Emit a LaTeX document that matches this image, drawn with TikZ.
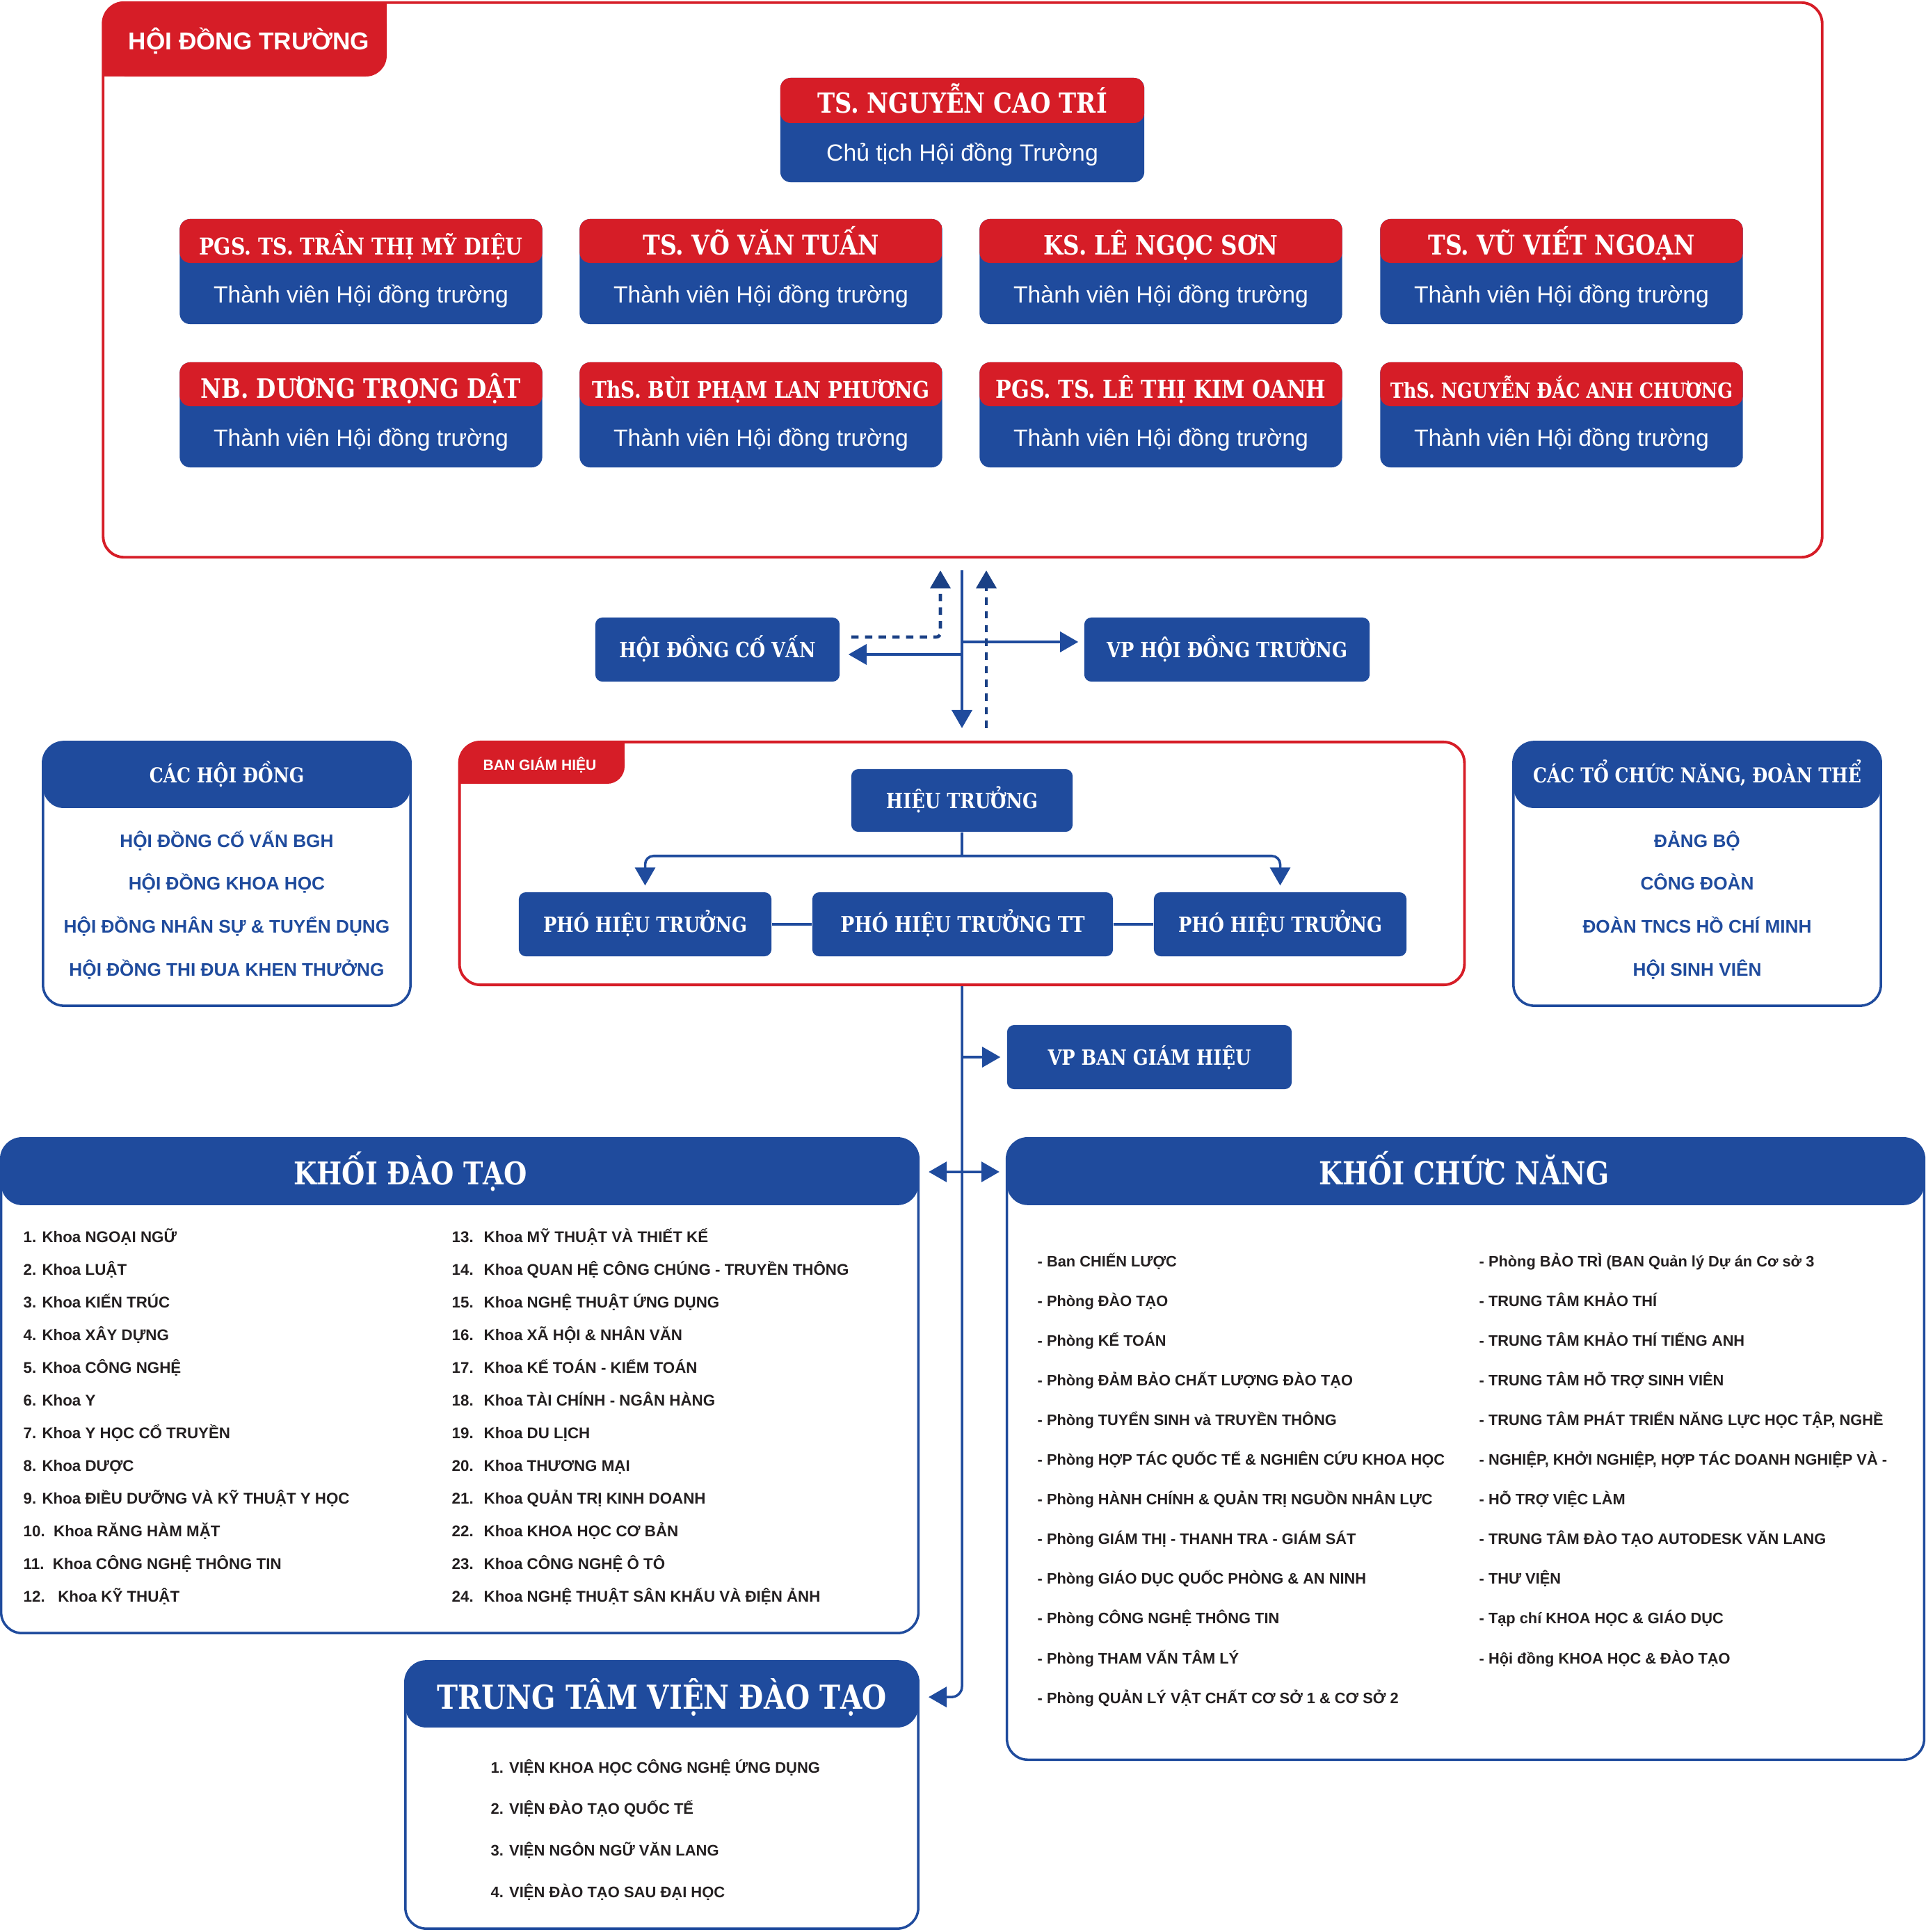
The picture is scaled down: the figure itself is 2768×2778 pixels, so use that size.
\documentclass[tikz,border=0pt]{standalone}
\usepackage{fontspec}
\setmainfont{Liberation Sans}
\newfontfamily\slab[FakeStretch=0.85]{DejaVu Serif}
\usepackage{tikz}
\usetikzlibrary{positioning,calc,arrows.meta}
\definecolor{hdred}{RGB}{214,29,39}
\definecolor{hdblue}{RGB}{31,75,157}
\definecolor{inkdark}{RGB}{35,31,32}

\begin{document}
\begin{tikzpicture}[x=0.01cm,y=-0.01cm,
  redframe/.style={draw=hdred,line width=1.1pt,rounded corners=0.3cm,inner sep=0pt},
  member/.style={fill=hdblue,rounded corners=0.15cm,inner sep=0pt,minimum width=5.21cm,minimum height=1.51cm,
    path picture={\fill[hdred] (path picture bounding box.north west) rectangle ([yshift=-#1]path picture bounding box.north east);}},
  member/.default=0.63cm,
  whotext/.style={anchor=base,text=white,font=\slab\bfseries\fontsize{#1}{#1}\selectfont},
  roletext/.style={anchor=base,text=white,font=\fontsize{9.6}{11}\selectfont},
  bluebox/.style={fill=hdblue,rounded corners=0.1cm,inner sep=0pt,minimum height=0.92cm,text=white,
    font=\slab\bfseries\fontsize{8.6}{10}\selectfont,text height=6.3pt,text depth=0pt},
  panel/.style={draw=hdblue,line width=1pt,rounded corners=0.3cm,inner sep=0pt,
    path picture={\fill[hdblue] (path picture bounding box.north west) rectangle ([yshift=-#1]path picture bounding box.north east);}},
  panel/.default=0.96cm,
  head/.style={anchor=base,text=white,font=\slab\bfseries\fontsize{#1}{#1}\selectfont},
  bluetxt/.style={anchor=base,text=hdblue,font=\bfseries\fontsize{7.45}{9}\selectfont},
  listtxt/.style={anchor=base west,inner sep=0pt,text=inkdark,font=\bfseries\fontsize{#1}{#1}\selectfont},
  bline/.style={draw=hdblue,line width=1pt},
  dline/.style={draw=hdblue!85!black,line width=1.3pt,dash pattern=on 3pt off 2.6pt},
  arr/.style={-{Triangle[width=0.29cm,length=0.26cm]}},
  arr2/.style={{Triangle[width=0.29cm,length=0.26cm]}-{Triangle[width=0.29cm,length=0.26cm]}}]
\useasboundingbox (0,0) rectangle (2768,2778);

% hoi dong truong
\node[redframe,minimum width=24.70cm,minimum height=7.97cm] (hdt) at (1384,402.5) {};
\fill[hdred,rounded corners=0.3cm] (149,4) rectangle (556,110);
\fill[hdred] (480,4) rectangle (556,60);
\fill[hdred] (149,50) rectangle (220,110);
\node[anchor=base,text=white,font=\bfseries\fontsize{10}{12}\selectfont] (hdttab) at (358,71) {HỘI ĐỒNG TRƯỜNG};

\node[member=0.65cm,minimum width=5.23cm,minimum height=1.50cm] (chu) at (1383.5,187) {};
\node[whotext=11.3] (chuw) at ([yshift=-0.51cm]chu.north) {TS. NGUYỄN CAO TRÍ};
\node[roletext] (chur) at ([yshift=-1.20cm]chu.north) {Chủ tịch Hội đồng Trường};

\foreach \cx/\cy/\who/\sz [count=\i] in {
  519/315/{PGS. TS. TRẦN THỊ MỸ DIỆU}/9.5,
  1094/315/{TS. VÕ VĂN TUẤN}/11.1,
  1669/315/{KS. LÊ NGỌC SƠN}/10.9,
  2245/315/{TS. VŨ VIẾT NGOẠN}/11.1,
  519/521/{NB. DƯƠNG TRỌNG DẬT}/10.9,
  1094/521/{ThS. BÙI PHẠM LAN PHƯƠNG}/9.4,
  1669/521/{PGS. TS. LÊ THỊ KIM OANH}/10.1,
  2245/521/{ThS. NGUYỄN ĐẮC ANH CHƯƠNG}/8.55}
{
  \node[member] (m\i) at (\cx,\cy+75.5) {};
  \node[whotext=\sz] (mw\i) at ([yshift=-0.52cm]m\i.north) {\who};
  \node[roletext] (mr\i) at ([yshift=-1.21cm]m\i.north) {Thành viên Hội đồng trường};
}

% co van, van phong
\node[bluebox,minimum width=3.51cm] (hdcv) at (1031.5,934) {HỘI ĐỒNG CỐ VẤN};
\node[bluebox,minimum width=4.10cm] (vphdt) at (1764,934) {VP HỘI ĐỒNG TRƯỜNG};

% ban giam hieu
\node[redframe,minimum width=14.44cm,minimum height=3.49cm] (bgh) at (1383,1241.5) {};
\fill[hdred,rounded corners=0.25cm] (661,1067) rectangle (898,1127);
\fill[hdred] (840,1067) rectangle (898,1100);
\fill[hdred] (661,1095) rectangle (700,1127);
\node[anchor=base,text=white,font=\bfseries\fontsize{6}{7}\selectfont] (bghtab) at (776,1107) {BAN GIÁM HIỆU};

\node[bluebox,minimum width=3.18cm,minimum height=0.90cm] (ht) at (1383,1151) {HIỆU TRƯỞNG};
\node[bluebox,minimum width=3.63cm] (pht1) at (927.5,1329) {PHÓ HIỆU TRƯỞNG};
\node[bluebox,minimum width=4.32cm,font=\slab\bfseries\fontsize{8.9}{10}\selectfont] (phttt) at (1384,1329) {PHÓ HIỆU TRƯỞNG TT};
\node[bluebox,minimum width=3.63cm] (pht3) at (1840.5,1329) {PHÓ HIỆU TRƯỞNG};
\node[bluebox,minimum width=4.09cm] (vpbgh) at (1652.5,1520) {VP BAN GIÁM HIỆU};

% cac hoi dong / cac to chuc
\node[panel=0.95cm,minimum width=5.28cm,minimum height=3.79cm] (chd) at (326,1256.5) {};
\node[head=8.4] (chdh) at (326,1125) {CÁC HỘI ĐỒNG};
\foreach \t [count=\i] in {HỘI ĐỒNG CỐ VẤN BGH, HỘI ĐỒNG KHOA HỌC, HỘI ĐỒNG NHÂN SỰ \& TUYỂN DỤNG, HỘI ĐỒNG THI ĐUA KHEN THƯỞNG}
  \node[bluetxt] (chd\i) at (326,{1218+61.7*(\i-1)}) {\t};

\node[panel=0.95cm,minimum width=5.28cm,minimum height=3.79cm] (ctc) at (2440,1256.5) {};
\node[head=8.4] (ctch) at (2440,1125) {CÁC TỔ CHỨC NĂNG, ĐOÀN THỂ};
\foreach \t [count=\i] in {ĐẢNG BỘ, CÔNG ĐOÀN, ĐOÀN TNCS HỒ CHÍ MINH, HỘI SINH VIÊN}
  \node[bluetxt] (ctc\i) at (2440,{1218+61.7*(\i-1)}) {\t};

% khoi dao tao
\node[panel,minimum width=13.18cm,minimum height=7.11cm] (kdt) at (661,1992.5) {};
\node[head=12.8] (kdth) at (590,1703) {KHỐI ĐÀO TẠO};
\foreach \t [count=\i] in {1. Khoa NGOẠI NGỮ, 2. Khoa LUẬT, 3. Khoa KIẾN TRÚC, 4. Khoa XÂY DỰNG, 5. Khoa CÔNG NGHỆ,
  6. Khoa Y, 7. Khoa Y HỌC CỔ TRUYỀN, 8. Khoa DƯỢC, 9. Khoa ĐIỀU DƯỠNG VÀ KỸ THUẬT Y HỌC,
  10.\ \ Khoa RĂNG HÀM MẶT, 11.\ \ Khoa CÔNG NGHỆ THÔNG TIN, 12.\ \ \ Khoa KỸ THUẬT}
  \node[listtxt=6.35] (ka\i) at (33,{1786+47*(\i-1)}) {\t};
\foreach \t [count=\i from 13] in {MỸ THUẬT VÀ THIẾT KẾ, QUAN HỆ CÔNG CHÚNG - TRUYỀN THÔNG, NGHỆ THUẬT ỨNG DỤNG,
  XÃ HỘI \& NHÂN VĂN, KẾ TOÁN - KIỂM TOÁN, TÀI CHÍNH - NGÂN HÀNG, DU LỊCH, THƯƠNG MẠI,
  QUẢN TRỊ KINH DOANH, KHOA HỌC CƠ BẢN, CÔNG NGHỆ Ô TÔ, NGHỆ THUẬT SÂN KHẤU VÀ ĐIỆN ẢNH}
{
  \node[listtxt=6.35] (kn\i) at (649,{1786+47*(\i-13)}) {\i.};
  \node[listtxt=6.35] (ka\i) at (695,{1786+47*(\i-13)}) {Khoa \t};
}

% khoi chuc nang
\node[panel,minimum width=13.18cm,minimum height=8.93cm] (kcn) at (2107,2083.5) {};
\node[head=13] (kcnh) at (2105,1703) {KHỐI CHỨC NĂNG};
\foreach \t [count=\i] in {Ban CHIẾN LƯỢC, Phòng ĐÀO TẠO, Phòng KẾ TOÁN, Phòng ĐẢM BẢO CHẤT LƯỢNG ĐÀO TẠO,
  Phòng TUYỂN SINH và TRUYỀN THÔNG, Phòng HỢP TÁC QUỐC TẾ \& NGHIÊN CỨU KHOA HỌC,
  Phòng HÀNH CHÍNH \& QUẢN TRỊ NGUỒN NHÂN LỰC, Phòng GIÁM THỊ - THANH TRA - GIÁM SÁT,
  Phòng GIÁO DỤC QUỐC PHÒNG \& AN NINH, Phòng CÔNG NGHỆ THÔNG TIN, Phòng THAM VẤN TÂM LÝ,
  Phòng QUẢN LÝ VẬT CHẤT CƠ SỞ 1 \& CƠ SỞ 2}
  \node[listtxt=6.2] (cn\i) at (1491,{1821+57.1*(\i-1)}) {- \t};
\foreach \t [count=\i] in {Phòng BẢO TRÌ (BAN Quản lý Dự án Cơ sở 3, TRUNG TÂM KHẢO THÍ, TRUNG TÂM KHẢO THÍ TIẾNG ANH,
  TRUNG TÂM HỖ TRỢ SINH VIÊN, {TRUNG TÂM PHÁT TRIỂN NĂNG LỰC HỌC TẬP, NGHỀ},
  {NGHIỆP, KHỞI NGHIỆP, HỢP TÁC DOANH NGHIỆP VÀ -}, HỖ TRỢ VIỆC LÀM, TRUNG TÂM ĐÀO TẠO AUTODESK VĂN LANG,
  THƯ VIỆN, Tạp chí KHOA HỌC \& GIÁO DỤC, Hội đồng KHOA HỌC \& ĐÀO TẠO}
  \node[listtxt=6.2] (cm\i) at (2126,{1821+57.1*(\i-1)}) {- \t};

% trung tam vien dao tao
\node[panel=0.95cm,minimum width=7.37cm,minimum height=3.84cm] (ttv) at (951.5,2581) {};
\node[head=13.5] (ttvh) at (952,2457) {TRUNG TÂM VIỆN ĐÀO TẠO};
\foreach \t [count=\i] in {1. VIỆN KHOA HỌC CÔNG NGHỆ ỨNG DỤNG, 2. VIỆN ĐÀO TẠO QUỐC TẾ, 3. VIỆN NGÔN NGỮ VĂN LANG, 4. VIỆN ĐÀO TẠO SAU ĐẠI HỌC}
  \node[listtxt=6.25] (tv\i) at (705,{2549+59.7*(\i-1)}) {\t};

% connectors
\coordinate (mtop) at ($(bgh.north |- hdt.south)+(0,17)$);
\coordinate (cvin) at ($(hdcv.east)+(12,7)$);
\coordinate (vpin) at ($(vphdt.west)+(-8,-11)$);
\draw[bline,arr] (mtop) -- ($(bgh.north)+(0,-18)$);
\draw[bline,arr] (mtop |- cvin) -- (cvin);
\draw[bline,arr] (mtop |- vpin) -- (vpin);
\draw[dline,arr,rounded corners=0.06cm] ($(hdcv.east)+(16,-18)$) -| ($(mtop)+(-31,0)$);
\draw[dline,arr] ($(bgh.north)+(35,-18)$) -- ($(mtop)+(35,0)$);

\coordinate (fork) at ($(ht.south)+(0,34)$);
\draw[bline] (ht) -- (fork);
\draw[bline,arr,rounded corners=0.12cm] (fork) -| ($(pht1.north)+(0,-9)$);
\draw[bline,arr,rounded corners=0.12cm] (fork) -| ($(pht3.north)+(0,-9)$);
\draw[bline] (pht1) -- (phttt);
\draw[bline] (phttt) -- (pht3);

\draw[bline,arr,rounded corners=0.15cm] (bgh.south) |- ($(ttv.north east)+(13,53)$);
\draw[bline,arr] (bgh.south |- vpbgh) -- ($(vpbgh.west)+(-9,0)$);
\draw[bline,arr2] ($(kdt.north east)+(13,50)$) -- ($(kcn.north west)+(-9,50)$);
\end{tikzpicture}
\end{document}
